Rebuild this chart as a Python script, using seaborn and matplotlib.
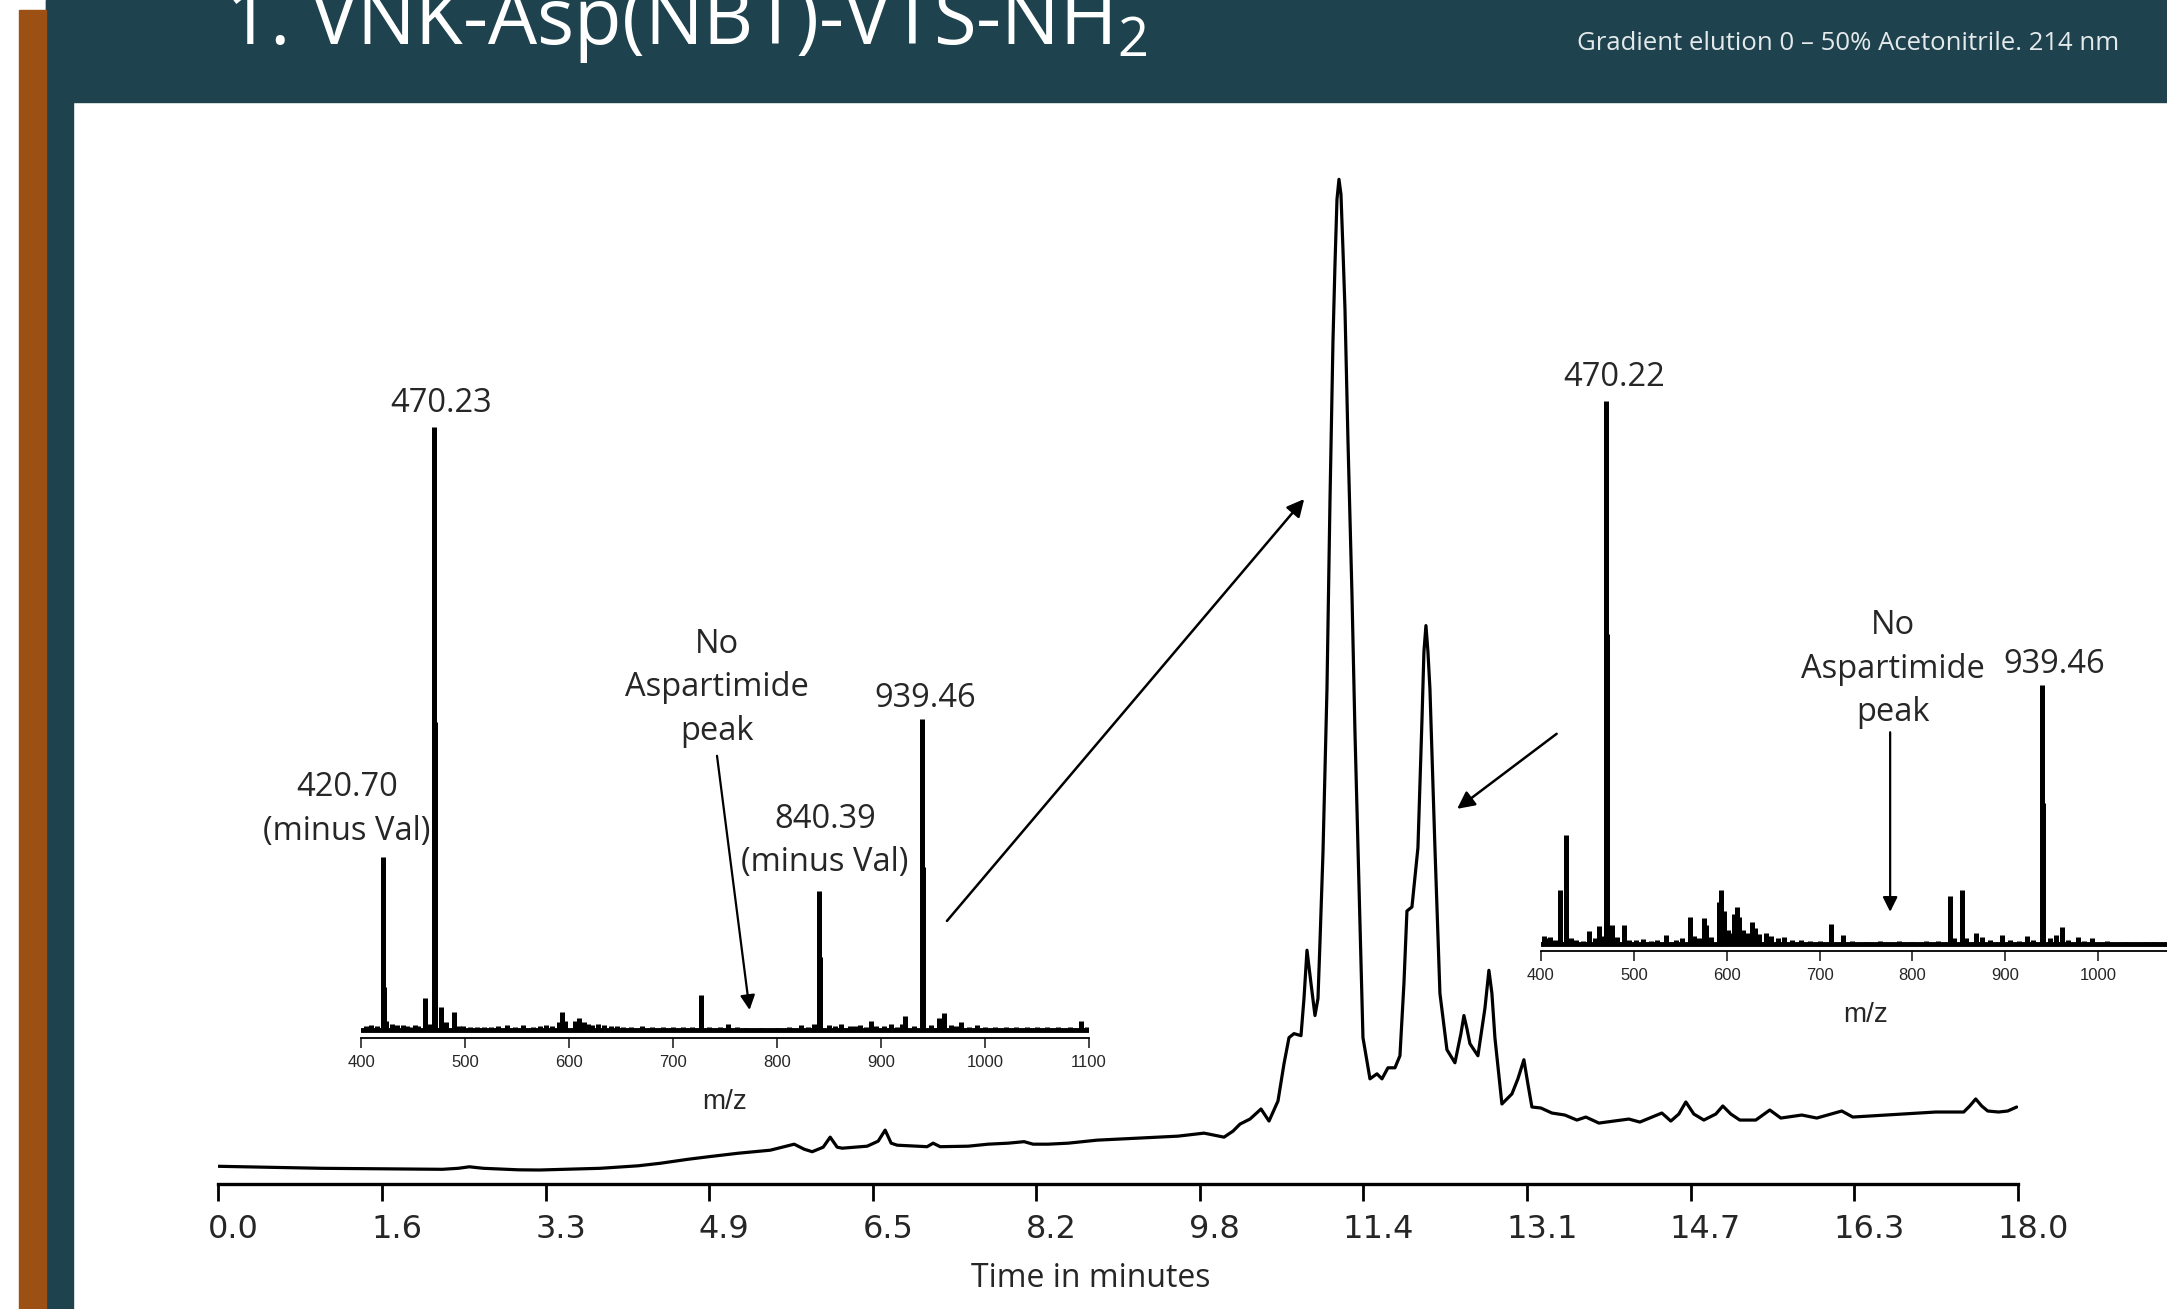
import numpy as np
import pandas as pd
import matplotlib
matplotlib.use('Agg')
import matplotlib.pyplot as plt
import matplotlib.transforms as mtransforms
from matplotlib.patches import Rectangle
import seaborn as sns

# ==========================================
# data: HPLC trace (214 nm)
# ==========================================
time_min = [0.00, 0.50, 1.03, 1.60, 2.24, 2.40, 2.51, 2.65, 3.00, 3.21, 3.82, 4.20, 4.42,
            4.70, 4.91, 5.20, 5.52, 5.76, 5.86, 5.94, 6.05, 6.12, 6.19, 6.24, 6.49, 6.60,
            6.67, 6.73, 6.79, 7.00, 7.09, 7.15, 7.22, 7.50, 7.70, 7.90, 8.06, 8.15, 8.30,
            8.50, 8.79, 9.00, 9.20, 9.40, 9.60, 9.86, 10.06, 10.15, 10.22, 10.32, 10.43,
            10.51, 10.60, 10.66, 10.71, 10.76, 10.83, 10.86, 10.89, 10.93, 10.97, 11.00,
            11.02, 11.05, 11.09, 11.12, 11.15, 11.17, 11.19, 11.21, 11.23, 11.25, 11.27,
            11.30, 11.34, 11.37, 11.40, 11.45, 11.52, 11.59, 11.64, 11.70, 11.77, 11.82,
            11.86, 11.89, 11.94, 12.00, 12.04, 12.06, 12.08, 12.10, 12.12, 12.17, 12.22,
            12.29, 12.37, 12.43, 12.46, 12.49, 12.52, 12.60, 12.67, 12.71, 12.74, 12.77,
            12.84, 12.94, 13.00, 13.06, 13.10, 13.14, 13.23, 13.34, 13.47, 13.59, 13.68,
            13.81, 14.11, 14.22, 14.44, 14.53, 14.61, 14.68, 14.76, 14.86, 14.98, 15.05,
            15.13, 15.22, 15.38, 15.52, 15.63, 15.84, 15.99, 16.24, 16.35, 16.68, 17.18,
            17.46, 17.52, 17.58, 17.64, 17.70, 17.81, 17.90, 17.99]
signal = [1.8, 1.7, 1.6, 1.55, 1.5, 1.6, 1.75, 1.6, 1.45, 1.43, 1.6, 1.85, 2.1,
          2.5, 2.76, 3.1, 3.4, 4.0, 3.5, 3.25, 3.7, 4.7, 3.7, 3.6, 3.8, 4.3,
          5.4, 4.1, 3.9, 3.8, 3.75, 4.1, 3.75, 3.8, 4.0, 4.1, 4.25, 4.0, 4.0,
          4.1, 4.4, 4.5, 4.6, 4.7, 4.8, 5.1, 4.7, 5.3, 6.0, 6.5, 7.5,
          6.3, 8.3, 12.0, 14.6, 15.0, 14.8, 18.5, 23.3, 20.0, 16.8, 18.5,
          24.1, 33.0, 49.3, 68.0, 83.9, 91.5, 98.0, 100.0, 98.5, 93.0, 87.1,
          74.0, 58.7, 45.0, 33.5, 14.6, 10.5, 11.0, 10.5, 11.6, 11.6, 12.8,
          20.0, 27.2, 27.6, 33.5, 46.1, 53.0, 55.6, 53.0, 49.3, 33.5, 19.0,
          13.4, 12.1, 15.0, 16.8, 15.5, 14.0, 12.8, 17.5, 21.3, 19.0, 14.6,
          8.0, 9.0, 10.5, 12.4, 10.0, 7.7, 7.6, 7.1, 6.9, 6.4, 6.7,
          6.1, 6.5, 6.2, 7.1, 6.3, 7.0, 8.2, 7.0, 6.4, 7.0, 7.8,
          7.0, 6.4, 6.4, 7.4, 6.6, 6.9, 6.6, 7.3, 6.7, 6.9, 7.2,
          7.2, 7.8, 8.5, 7.8, 7.3, 7.2, 7.3, 7.7]
time_tick_labels = ['0.0', '1.6', '3.3', '4.9', '6.5', '8.2', '9.8', '11.4', '13.1',
                    '14.7', '16.3', '18.0']

# mass spectrum of the main peak (relative intensity)
ms1_mz = [420.70, 421.7, 470.23, 471.2, 462, 477, 489, 727, 840.39, 841.4, 939.46, 940.5,
          923, 956, 961, 593, 610, 890, 1092,
          405, 410, 415, 424, 430, 435, 440, 444, 448, 452, 455, 466, 482, 494, 498, 505,
          512, 518, 525, 532, 540, 548, 556, 565, 572, 578, 584, 590, 596, 606, 614, 618,
          622, 628, 634, 640, 646, 652, 660, 670, 680, 690, 700, 710, 718, 735, 745, 753,
          762, 770, 785, 800, 812, 823, 830, 836, 850, 856, 862, 870, 875, 880, 886, 895,
          903, 910, 915, 920, 932, 948, 967, 972, 977, 985, 992, 1000, 1010, 1020, 1030,
          1040, 1050, 1060, 1070, 1082, 1098]
ms1_int = [28.7, 7.0, 100, 51, 5.3, 3.7, 3.0, 5.7, 23, 12, 51.6, 27,
           2.2, 2.0, 2.8, 3.0, 2.0, 1.5, 1.4,
           0.6, 0.8, 0.6, 1.5, 1.0, 0.7, 0.7, 0.6, 0.5, 0.7, 0.6, 1.0, 1.2, 0.6, 0.6, 0.5,
           0.4, 0.5, 0.5, 0.6, 0.8, 0.5, 0.7, 0.4, 0.6, 0.8, 0.6, 1.2, 1.5, 1.4, 1.2, 1.0,
           0.8, 1.0, 0.7, 0.6, 0.6, 0.5, 0.5, 0.6, 0.5, 0.4, 0.4, 0.5, 0.4, 0.4, 0.4, 1.0,
           0.4, 0.3, 0.3, 0.3, 0.4, 0.8, 0.5, 1.0, 0.8, 0.6, 1.0, 0.6, 0.6, 0.7, 0.5, 0.6,
           0.6, 0.9, 0.5, 1.0, 0.6, 0.8, 0.8, 0.6, 1.2, 0.5, 0.8, 0.4, 0.5, 0.4, 0.4,
           0.4, 0.4, 0.4, 0.4, 0.4, 0.5]

# mass spectrum of the second peak
ms2_mz = [420.0, 426.9, 470.22, 471.2, 452, 462, 477, 489, 535, 560, 576, 578, 592, 594,
          597, 608, 611, 613, 627, 630, 642, 712, 725, 840, 853, 868, 896, 923, 939.46,
          940.5, 955, 961, 978, 993,
          403, 405, 410, 415, 432, 438, 445, 458, 466, 482, 495, 502, 510, 518, 525, 545,
          552, 565, 570, 583, 601, 604, 618, 622, 635, 648, 655, 662, 670, 680, 690, 700,
          735, 750, 765, 785, 800, 815, 828, 845, 858, 875, 884, 905, 915, 930, 948, 968,
          985, 1010, 1030, 1050, 1060]
ms2_int = [10, 20, 100, 57, 2.3, 3.3, 3.5, 3.5, 1.6, 5.0, 4.7, 3.5, 7.8, 10,
           6.0, 5.5, 6.8, 5.0, 4.0, 3.0, 2.0, 3.7, 1.6, 8.8, 10, 2.0, 1.7, 1.5, 47.6,
           26, 1.7, 3.1, 1.2, 1.0,
           1.5, 1.0, 1.2, 0.8, 1.0, 0.8, 0.6, 1.0, 1.5, 1.2, 0.8, 0.7, 0.9, 0.6, 0.8, 0.8,
           1.0, 1.5, 1.0, 1.3, 2.5, 2.0, 2.5, 2.0, 1.8, 1.5, 1.0, 1.2, 0.8, 0.8, 0.6, 0.6,
           0.5, 0.4, 0.5, 0.5, 0.4, 0.5, 0.6, 1.0, 1.0, 1.2, 0.8, 0.8, 0.6, 0.8, 1.0, 0.8,
           0.6, 0.5, 0.4, 0.4, 0.3]
mz_ticks_1 = [400, 500, 600, 700, 800, 900, 1000, 1100]
mz_ticks_2 = [400, 500, 600, 700, 800, 900, 1000]

# ==========================================
# style
# ==========================================
sns.set_style('white')
plt.rcParams['font.family'] = ['Open Sans', 'DejaVu Sans']
plt.rcParams['mathtext.fontset'] = 'custom'
plt.rcParams['mathtext.rm'] = 'Open Sans'
plt.rcParams['mathtext.default'] = 'regular'

TEAL = '#1f434e'
ORANGE = '#9c5014'
LABEL_FS = 23.5

fig = plt.figure(figsize=(21.67, 13.09), dpi=100)
fig.patch.set_facecolor('white')

# slide frame: header band, left strips
fig.patches.extend([
    Rectangle((0.0212, 0.9223), 0.9788, 0.0777, transform=fig.transFigure, figure=fig,
              color=TEAL, zorder=0),
    Rectangle((0.0212, 0.0), 0.0125, 1.0, transform=fig.transFigure, figure=fig,
              color=TEAL, zorder=0),
    Rectangle((0.0088, 0.0), 0.0124, 0.9924, transform=fig.transFigure, figure=fig,
              color=ORANGE, zorder=0),
])
fig.text(0.1038, 0.9664, r'1. VNK-Asp(NBT)-VTS-NH$_2$', color='white', fontsize=56,
         ha='left', va='baseline')
fig.text(0.9778, 0.9664, 'Gradient elution 0 – 50% Acetonitrile. 214 nm', color='#e4eaec',
         fontsize=18.5, ha='right', va='center')

# ==========================================
# main chromatogram
# ==========================================
ax = fig.add_axes([0.1008, 0.0952, 0.8303, 0.8062])
ax.patch.set_alpha(0)
chrom = pd.DataFrame({'time': time_min, 'signal': signal})
sns.lineplot(data=chrom, x='time', y='signal', ax=ax, color='black', lw=2.3,
             estimator=None, sort=False)
ax.set_xlim(0, 18)
ax.set_ylim(0, 105)
for s in ['left', 'top', 'right']:
    ax.spines[s].set_visible(False)
ax.spines['bottom'].set_linewidth(2.4)
ax.spines['bottom'].set_color('black')
ax.set_yticks([])
ax.set_ylabel('')
ax.set_xticks(np.linspace(0, 18, len(time_tick_labels)))
ax.set_xticklabels(time_tick_labels, fontsize=23, family='DejaVu Sans')
ax.tick_params(axis='x', direction='out', length=12, width=2, pad=9, color='black',
               bottom=True)
shift = mtransforms.ScaledTranslation(0.15, 0, fig.dpi_scale_trans)
for lab in ax.get_xticklabels():
    lab.set_transform(lab.get_transform() + shift)
ax.set_xlabel('Time in minutes', fontsize=23)
ax.xaxis.set_label_coords(0.4846, -0.074)

# arrows from the spectra to the peaks
ax.annotate('', xy=(10.88, 68.4), xytext=(7.27, 26.0),
            arrowprops=dict(arrowstyle='-|>', lw=1.8, color='black', mutation_scale=26))
ax.annotate('', xy=(12.37, 37.2), xytext=(13.41, 45.0),
            arrowprops=dict(arrowstyle='-|>', lw=1.8, color='black', mutation_scale=26))


def spectrum(rect, mz, inten, ylow, ticks):
    a = fig.add_axes(rect)
    a.patch.set_alpha(0)
    a.vlines(mz, 0, inten, color='black', lw=3.6)
    a.axhline(0, color='black', lw=3.5)
    a.set_xlim(400, 1100)
    a.set_ylim(ylow, 100)
    for s in ['left', 'top', 'right']:
        a.spines[s].set_visible(False)
    a.spines['bottom'].set_linewidth(1.3)
    a.spines['bottom'].set_color('black')
    a.set_yticks([])
    a.set_xticks(ticks)
    a.set_xticklabels([str(t) for t in ticks], fontsize=12, family='Liberation Sans')
    a.tick_params(axis='x', direction='out', length=7, width=1.2, pad=5, bottom=True)
    a.set_xlabel('m/z', fontsize=20, family='Liberation Sans', labelpad=14)
    return a


# inset 1: main peak
ax1 = spectrum([0.1666, 0.2070, 0.3359, 0.4668], ms1_mz, ms1_int, -1.4, mz_ticks_1)
ax1.text(477, 103.9, '470.23', fontsize=LABEL_FS, ha='center', va='center')
ax1.text(386.5, 36.5, '420.70\n(minus Val)', fontsize=LABEL_FS, ha='center', va='center',
         linespacing=1.42)
ax1.text(742, 56.7, 'No\nAspartimide\npeak', fontsize=LABEL_FS, ha='center', va='center',
         linespacing=1.42)
ax1.annotate('', xy=(774, 2.8), xytext=(742, 45.9),
             arrowprops=dict(arrowstyle='-|>', lw=1.6, color='black', mutation_scale=22))
ax1.text(846, 31.3, '840.39\n(minus Val)', fontsize=LABEL_FS, ha='center', va='center',
         linespacing=1.42)
ax1.text(943, 55.0, '939.46', fontsize=LABEL_FS, ha='center', va='center')

# inset 2: second peak
ax2 = spectrum([0.7111, 0.2735, 0.3000, 0.4202], ms2_mz, ms2_int, -1.3, mz_ticks_2)
ax2.text(478.6, 104.4, '470.22', fontsize=LABEL_FS, ha='center', va='center')
ax2.text(779, 50.6, 'No\nAspartimide\npeak', fontsize=LABEL_FS, ha='center', va='center',
         linespacing=1.42)
ax2.annotate('', xy=(776, 5.4), xytext=(776, 39.5),
             arrowprops=dict(arrowstyle='-|>', lw=1.6, color='black', mutation_scale=22))
ax2.text(953, 51.4, '939.46', fontsize=LABEL_FS, ha='center', va='center')

plt.savefig('out.png', dpi=100, facecolor='white')
